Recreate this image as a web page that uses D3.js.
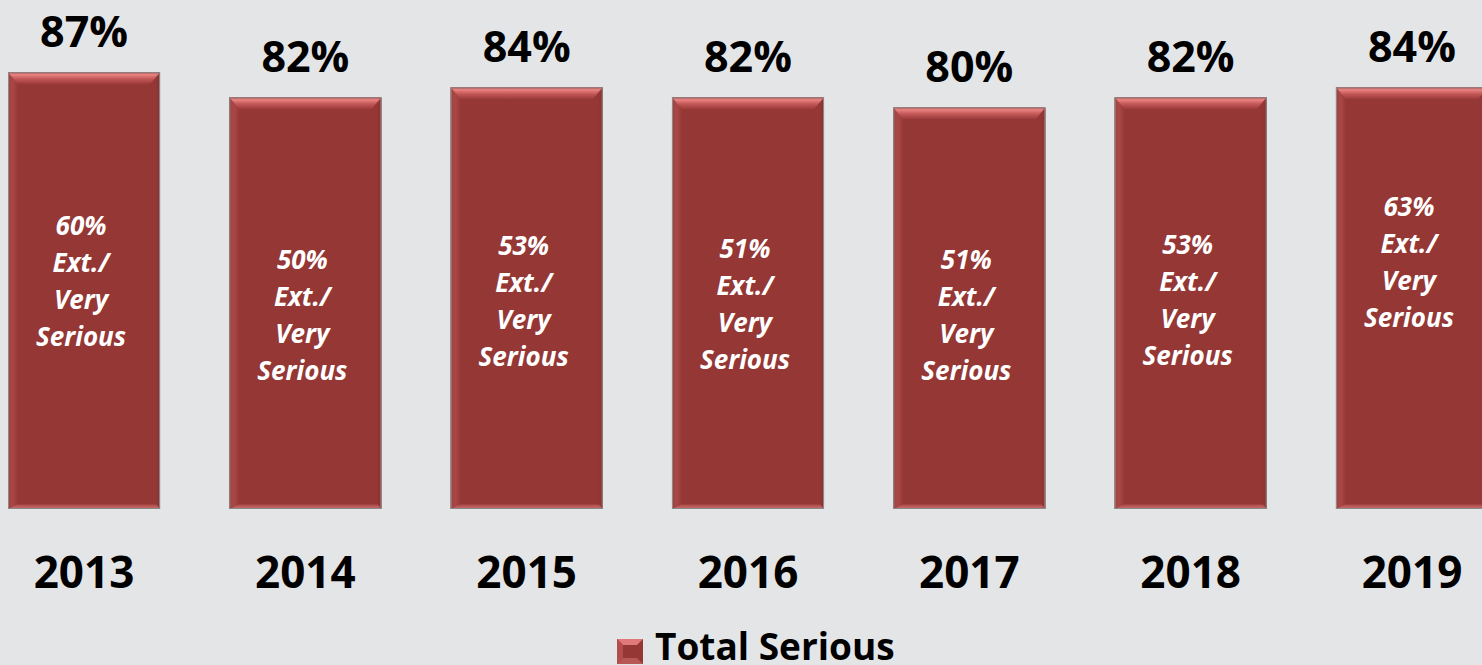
<!DOCTYPE html>
<html>
<head>
<meta charset="utf-8">
<script src="https://d3js.org/d3.v7.min.js"></script>
<style>
  body { margin: 0; background: #e4e5e7; overflow: hidden; }
  svg { display: block; font-family: "Open Sans", sans-serif; }
</style>
</head>
<body>
<div id="chart"></div>
<script>
// values
const years = ["2013", "2014", "2015", "2016", "2017", "2018", "2019"];
const totalSerious = [87, 82, 84, 82, 80, 82, 84];
const extVerySerious = [60, 50, 53, 51, 51, 53, 63];
const seriesName = "Total Serious";

// hand placed inner labels (px from bar middle), like the original slide
const innerNudge = [-9, 12, 3, 1, 7, -3, -36];

const w = 1482;
const h = 665;
const baseY = 509;

const dataset = years.map((y, i) => ({ year: y, total: totalSerious[i], ext: extVerySerious[i], nudge: innerNudge[i] }));

const xScale = d3.scaleBand()
                 .domain(years)
                 .range([8, 1488])
                 .paddingInner(0.313)
                 .paddingOuter(0);

const yScale = d3.scaleLinear()
                 .domain([0, 100])
                 .range([baseY, baseY - 502]);

const svg = d3.select("#chart").append("svg")
              .attr("width", w)
              .attr("height", h);

const defs = svg.append("defs");

const topGrad = defs.append("linearGradient").attr("id", "topBevel")
                    .attr("x1", 0).attr("y1", 0).attr("x2", 0).attr("y2", 1);
topGrad.append("stop").attr("offset", "0%").attr("stop-color", "#b84c4b");
topGrad.append("stop").attr("offset", "20%").attr("stop-color", "#ea8381");
topGrad.append("stop").attr("offset", "55%").attr("stop-color", "#c25857");
topGrad.append("stop").attr("offset", "100%").attr("stop-color", "#9a3a39");

const leftGrad = defs.append("linearGradient").attr("id", "leftBevel")
                     .attr("x1", 0).attr("y1", 0).attr("x2", 1).attr("y2", 0);
leftGrad.append("stop").attr("offset", "0%").attr("stop-color", "#a34341");
leftGrad.append("stop").attr("offset", "50%").attr("stop-color", "#a84746");
leftGrad.append("stop").attr("offset", "100%").attr("stop-color", "#963836");

const bottomGrad = defs.append("linearGradient").attr("id", "bottomBevel")
                       .attr("x1", 0).attr("y1", 0).attr("x2", 0).attr("y2", 1);
bottomGrad.append("stop").attr("offset", "0%").attr("stop-color", "#9c3d3c");
bottomGrad.append("stop").attr("offset", "60%").attr("stop-color", "#c26563");
bottomGrad.append("stop").attr("offset", "100%").attr("stop-color", "#b45654");

const rightGrad = defs.append("linearGradient").attr("id", "rightBevel")
                      .attr("x1", 0).attr("y1", 0).attr("x2", 1).attr("y2", 0);
rightGrad.append("stop").attr("offset", "0%").attr("stop-color", "#943634");
rightGrad.append("stop").attr("offset", "100%").attr("stop-color", "#8a3130");

const bw = xScale.bandwidth();
const bv = 10;   // bevel size

const bars = svg.selectAll("g.bar")
                .data(dataset)
                .enter()
                .append("g")
                .attr("class", "bar");

bars.append("rect")
    .attr("x", (d) => xScale(d.year))
    .attr("y", (d) => yScale(d.total))
    .attr("width", bw)
    .attr("height", (d) => baseY - yScale(d.total))
    .attr("fill", "#943735");

// bevel faces
bars.append("polygon")
    .attr("fill", "url(#leftBevel)")
    .attr("points", (d) => {
      const x = xScale(d.year), y = yScale(d.total);
      return [[x, y], [x + bv, y + bv], [x + bv, baseY - 5], [x, baseY]].join(" ");
    });

bars.append("polygon")
    .attr("fill", "url(#rightBevel)")
    .attr("points", (d) => {
      const x = xScale(d.year) + bw, y = yScale(d.total);
      return [[x, y], [x - 4, y + bv], [x - 4, baseY - 5], [x, baseY]].join(" ");
    });

bars.append("polygon")
    .attr("fill", "url(#bottomBevel)")
    .attr("points", (d) => {
      const x = xScale(d.year);
      return [[x, baseY], [x + bv, baseY - 5], [x + bw - 4, baseY - 5], [x + bw, baseY]].join(" ");
    });

bars.append("polygon")
    .attr("fill", "url(#topBevel)")
    .attr("points", (d) => {
      const x = xScale(d.year), y = yScale(d.total);
      return [[x, y], [x + bw, y], [x + bw - bv, y + bv + 2], [x + bv, y + bv + 2]].join(" ");
    });

bars.append("rect")
    .attr("x", (d) => xScale(d.year) + 0.5)
    .attr("y", (d) => yScale(d.total) + 0.5)
    .attr("width", bw - 1)
    .attr("height", (d) => baseY - yScale(d.total) - 1)
    .attr("fill", "none")
    .attr("stroke", "#8b8a8a")
    .attr("stroke-width", 1);

// value above bar
svg.selectAll("text.total")
   .data(dataset)
   .enter()
   .append("text")
   .attr("class", "total")
   .attr("x", (d) => xScale(d.year) + bw / 2)
   .attr("y", (d) => yScale(d.total) - 25)
   .attr("text-anchor", "middle")
   .style("font-size", "43px")
   .style("font-weight", "700")
   .style("fill", "#000")
   .text((d) => d.total + "%");

// inner label
const inner = svg.selectAll("text.inner")
   .data(dataset)
   .enter()
   .append("text")
   .attr("class", "inner")
   .attr("text-anchor", "middle")
   .style("font-size", "26px")
   .style("font-weight", "700")
   .style("font-style", "italic")
   .style("fill", "#fff");

const lineH = 37;
inner.each(function(d) {
  const cx = xScale(d.year) + bw / 2 - 3;
  const mid = (yScale(d.total) + baseY) / 2 + d.nudge;
  const first = mid - 1.5 * lineH + 9;
  const lines = [d.ext + "%", "Ext./", "Very", "Serious"];
  d3.select(this).selectAll("tspan")
    .data(lines)
    .enter()
    .append("tspan")
    .attr("x", cx)
    .attr("y", (t, i) => first + i * lineH)
    .text((t) => t);
});

// year axis
const xAxis = d3.axisBottom(xScale).tickSize(0).tickPadding(0);
const axisG = svg.append("g")
   .attr("transform", "translate(0," + baseY + ")")
   .call(xAxis);
axisG.select(".domain").remove();
axisG.selectAll("text")
     .attr("y", 79)
     .attr("dy", 0)
     .style("font-family", "'Open Sans', sans-serif")
     .style("font-size", "44px")
     .style("font-weight", "700")
     .style("fill", "#000");

// legend
const legend = svg.append("g").attr("transform", "translate(617,639)");
legend.append("rect")
      .attr("width", 26).attr("height", 25)
      .attr("fill", "#943735");
legend.append("polygon")
      .attr("points", "0,0 26,0 20,6 6,6")
      .attr("fill", "#e07977");
legend.append("polygon")
      .attr("points", "0,0 6,6 6,19 0,25")
      .attr("fill", "#b24d4b");
legend.append("polygon")
      .attr("points", "0,25 6,19 20,19 26,25")
      .attr("fill", "#b85856");
legend.append("text")
      .attr("x", 38)
      .attr("y", 21)
      .style("font-size", "37px")
      .style("font-weight", "700")
      .style("fill", "#000")
      .text(seriesName);
</script>
</body>
</html>
